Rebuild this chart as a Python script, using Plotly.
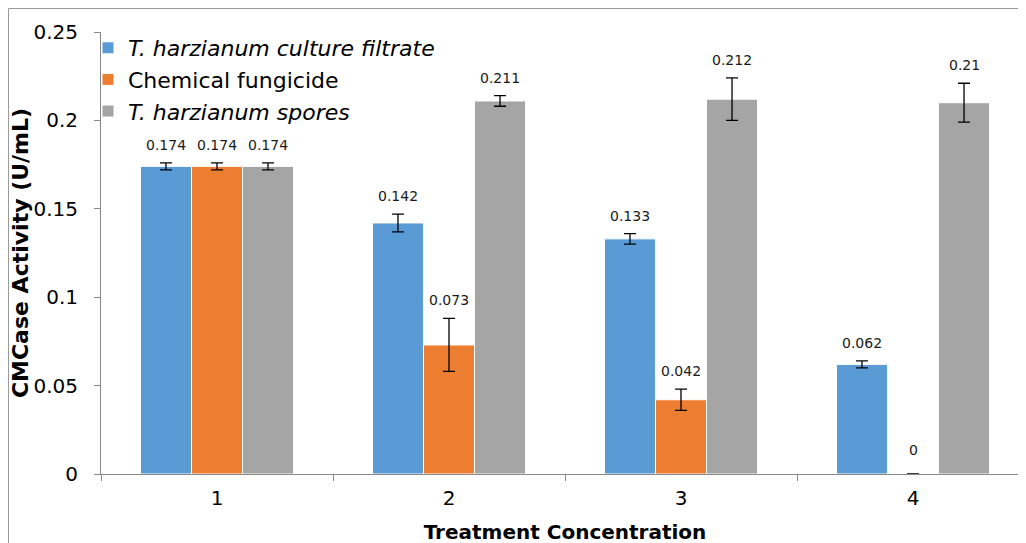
import plotly.graph_objects as go

categories = ["1", "2", "3", "4"]
series_names = ["<i>T. harzianum culture filtrate</i>", "Chemical fungicide", "<i>T. harzianum spores</i>"]
culture_filtrate = [0.174, 0.142, 0.133, 0.062]
chemical_fungicide = [0.174, 0.073, 0.042, 0.0]
spores = [0.174, 0.211, 0.212, 0.21]
err_culture = [0.002, 0.005, 0.003, 0.002]
err_chemical = [0.002, 0.015, 0.006, 0.0]
err_spores = [0.002, 0.003, 0.012, 0.011]
label_culture = ["0.174", "0.142", "0.133", "0.062"]
label_chemical = ["0.174", "0.073", "0.042", "0"]
label_spores = ["0.174", "0.211", "0.212", "0.21"]
colors = ["#5B9BD5", "#ED7D31", "#A5A5A5"]

values = [culture_filtrate, chemical_fungicide, spores]
errors = [err_culture, err_chemical, err_spores]
labels = [label_culture, label_chemical, label_spores]

FONT = "DejaVu Sans, Arial, sans-serif"

fig = go.Figure()
for name, vals, errs, col in zip(series_names, values, errors, colors):
    fig.add_trace(go.Bar(
        x=categories, y=vals, name=name,
        marker=dict(color=col, line=dict(color="white", width=1)),
        error_y=dict(type="data", array=errs, visible=True,
                     color="black", thickness=1.3, width=6),
        offsetgroup=name,
    ))

# data labels above the error bars
offsets = [-1, 0, 1]
bar_w = 0.66 / 3
annotations = []
for i, (vals, errs, labs) in enumerate(zip(values, errors, labels)):
    for j, (v, e, t) in enumerate(zip(vals, errs, labs)):
        annotations.append(dict(
            x=j + offsets[i] * bar_w, y=v + e, xref="x", yref="y",
            text=t, showarrow=False, yanchor="bottom", yshift=8 if v > 0 else 14,
            font=dict(family=FONT, size=14, color="#1a1a1a"),
        ))

fig.update_layout(
    width=1026, height=543,
    margin=dict(l=93, r=5, t=24, b=77, autoexpand=False),
    paper_bgcolor="white", plot_bgcolor="white",
    barmode="group", bargap=0.34, bargroupgap=0,
    font=dict(family=FONT, color="black"),
    showlegend=True,
    legend=dict(x=-0.014, y=1.0113, xanchor="left", yanchor="top",
                font=dict(size=22, family=FONT),
                bgcolor="rgba(0,0,0,0)", itemwidth=30, tracegroupgap=0,
                traceorder="normal"),
    annotations=annotations,
    xaxis=dict(type="category", range=[-0.5, 3.5], tickson="boundaries",
               ticks="outside", ticklen=6, tickcolor="#888", showline=True,
               linecolor="#888", linewidth=1, showgrid=False, automargin=False,
               tickfont=dict(size=20), ticklabelstandoff=6,
               title=dict(text="<b>Treatment Concentration</b>", font=dict(size=20), standoff=15)),
    yaxis=dict(range=[0, 0.25], tickvals=[0, 0.05, 0.1, 0.15, 0.2, 0.25],
               ticktext=["0", "0.05", "0.1", "0.15", "0.2", "0.25"],
               ticks="outside", ticklen=6, tickcolor="#888", showline=True,
               linecolor="#888", linewidth=1, showgrid=False, zeroline=False,
               automargin=False, tickfont=dict(size=20), ticklabelstandoff=12,
               title=dict(text="<b>CMCase Activity (U/mL)</b>", font=dict(size=22), standoff=3)),
    shapes=[dict(type="line", xref="paper", yref="paper", x0=-0.09968, x1=-0.09968, y0=-0.2, y1=1.0532,
                 line=dict(color="#999", width=1)),
            dict(type="line", xref="paper", yref="paper", x0=-0.09968, x1=1.01, y0=1.0532, y1=1.0532,
                 line=dict(color="#999", width=1))],
)

fig.write_html("out.html")
